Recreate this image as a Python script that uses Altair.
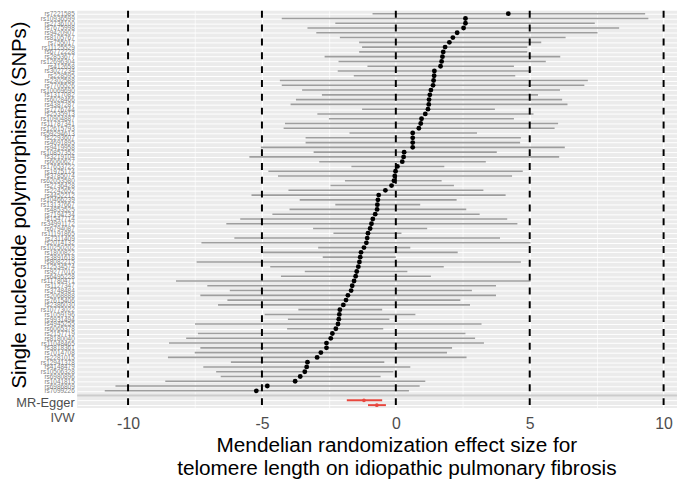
import altair as alt
import pandas as pd

# ---------------- data ----------------
snps = [
    "rs7221585", "rs10936599", "rs2736100", "rs7675998", "rs9420907", "rs8105767",
    "rs755017", "rs11125529", "rs6772228", "rs2853677", "rs12696304", "rs412658",
    "rs3027234", "rs228595", "rs2302588", "rs7705526", "rs10069690", "rs1317082",
    "rs6028466", "rs4387287", "rs7776744", "rs2535913", "rs10904887", "rs11787341",
    "rs12615793", "rs59294613", "rs2293607", "rs4691895", "rs9419958", "rs10857352",
    "rs3219104", "rs6060627", "rs17653722", "rs1975174", "rs3785074", "rs62053580",
    "rs2736428", "rs2242652", "rs4452212", "rs10466239", "rs13137667", "rs4853525",
    "rs7194734", "rs1547714", "rs34991172", "rs6794087", "rs11191865", "rs7311409",
    "rs2014132", "rs10250202", "rs1800822", "rs3891618", "rs8082215", "rs12534574",
    "rs9277016", "rs6495228", "rs11780471", "rs1127347", "rs3748484", "rs2068888",
    "rs7615406", "rs2386030", "rs10773022", "rs1059196", "rs9931494", "rs4945255",
    "rs6065378", "rs2157719", "rs8180040", "rs11048465", "rs3818361", "rs7014708",
    "rs2281015", "rs12941378", "rs4148479", "rs10506328", "rs6980896", "rs1041815",
    "rs6986809", "rs7099226",
]
beta = [4.2, 2.6, 2.6, 2.53, 2.29, 2.13, 2.0, 1.84, 1.77, 1.74, 1.71, 1.67, 1.44,
        1.43, 1.41, 1.39, 1.31, 1.27, 1.24, 1.23, 1.2, 1.1, 0.96, 0.93, 0.86, 0.63,
        0.63, 0.63, 0.63, 0.31, 0.29, 0.24, 0.06, -0.01, -0.04, -0.07, -0.16, -0.39,
        -0.64, -0.67, -0.69, -0.7, -0.77, -0.86, -0.91, -0.96, -1.04, -1.07, -1.1,
        -1.19, -1.3, -1.33, -1.36, -1.4, -1.46, -1.5, -1.56, -1.63, -1.67, -1.79,
        -1.86, -1.96, -2.09, -2.11, -2.13, -2.16, -2.24, -2.37, -2.43, -2.59, -2.59,
        -2.8, -2.94, -3.3, -3.33, -3.4, -3.57, -3.76, -4.8, -5.21]
lo = [-0.87, -4.26, -2.26, -3.3, -2.97, -2.09, -1.37, -1.26, -1.37, -2.66, -2.14,
      -1.06, -2.17, -1.57, -4.33, -4.26, -3.5, -2.76, -3.73, -3.93, -1.26, -2.93,
      -2.5, -4.14, -4.19, -1.73, -3.37, -3.37, -5.04, -3.07, -5.47, -2.86, -1.66,
      -4.76, -4.4, -1.9, -2.44, -4.01, -5.39, -3.59, -2.26, -3.97, -4.61, -5.81,
      -6.33, -3.09, -2.33, -6.03, -7.26, -2.9, -4.99, -2.73, -7.44, -4.69, -3.4,
      -4.29, -8.21, -7.04, -6.2, -7.3, -6.29, -6.64, -3.64, -4.9, -4.03, -7.5,
      -4.06, -7.39, -7.83, -8.47, -7.3, -7.51, -8.51, -6.16, -7.19, -6.71, -6.54,
      -8.61, -10.47, -10.87]
hi = [9.31, 9.43, 7.43, 8.34, 7.53, 6.34, 5.43, 4.91, 4.91, 6.14, 5.6, 4.41, 5.06,
      4.46, 7.17, 7.04, 6.13, 5.31, 6.21, 6.41, 3.7, 5.14, 4.41, 6.06, 5.93, 3.03,
      4.67, 4.64, 6.31, 3.77, 6.1, 3.36, 1.81, 4.74, 4.34, 1.71, 2.17, 3.27, 4.1,
      2.27, 0.91, 2.63, 3.13, 4.16, 4.54, 1.17, 0.21, 3.89, 5.03, 0.54, 2.31, 0.0,
      4.67, 1.79, 0.43, 1.31, 5.03, 3.74, 2.84, 3.74, 2.41, 2.77, -0.51, 0.73,
      -0.24, 3.2, -0.47, 2.6, 2.96, 3.29, 2.1, 1.91, 2.64, -0.43, 0.54, -0.09,
      -0.57, 1.1, 0.89, 0.49]

methods = ["MR-Egger", "IVW"]
m_beta = [-1.19, -0.71]
m_lo = [-1.83, -1.04]
m_hi = [-0.51, -0.37]

ref_lines = [-10, -5, 0, 5, 10]
grid_vals = [-10, -7.5, -5, -2.5, 0, 2.5, 5, 7.5, 10]

SEP = "sep"
order = snps + [SEP] + methods

snp_df = pd.DataFrame({"label": snps, "b": beta, "lo": lo, "hi": hi})
m_df = pd.DataFrame({"label": methods, "b": m_beta, "lo": m_lo, "hi": m_hi})
sep_df = pd.DataFrame({"label": [SEP]})
ref_df = pd.DataFrame({"xv": ref_lines})

W, H = 607, 402

xscale = alt.Scale(domain=[-11.9, 10.5], nice=False, zero=False)
xaxis = alt.Axis(
    title=["Mendelian randomization effect size for",
           "telomere length on idiopathic pulmonary fibrosis"],
    values=grid_vals,
    labelExpr="datum.value % 5 == 0 ? ('' + datum.value) : ''",
    ticks=False, domain=False, grid=True, gridColor="white",
    gridWidth={"condition": {"test": "datum.value % 5 == 0", "value": 1.2}, "value": 0.7},
    labelFontSize=16, labelColor="#4d4d4d", labelPadding=8,
    titleFontSize=21, titleFontWeight="normal", titleColor="black",
    titleX=323, titleY=27, titleBaseline="top", titleAlign="center",
    titleLineHeight=23, titleAngle=0,
)

is_m = "datum.value == 'MR-Egger' || datum.value == 'IVW'"
yaxis = alt.Axis(
    title="Single nucleotide polymorphisms (SNPs)",
    labelExpr="datum.value == 'sep' ? '' : datum.label",
    labelFontSize={"condition": {"test": is_m, "value": 13}, "value": 6.5},
    labelColor={"condition": {"test": is_m, "value": "#4d4d4d"}, "value": "#808080"},
    labelOffset={"condition": [{"test": "datum.value == 'IVW'", "value": 13},
                               {"test": "datum.value == 'MR-Egger'", "value": 2}],
                 "value": 0},
    labelOverlap=False, labelPadding=3, labelLimit=0,
    ticks=False, domain=False, grid=True, gridColor="white", gridWidth=1,
    titleFontSize=20.5, titleFontWeight="normal", titleColor="black",
    titleX=-58, titleY=196, titleAngle=270, titleAlign="center", titleBaseline="middle",
)

yenc = alt.Y("label:N", sort=order,
             scale=alt.Scale(type="point", domain=order, padding=0.61),
             axis=yaxis)


def xenc(field):
    return alt.X(f"{field}:Q", scale=xscale, axis=xaxis)


sep = alt.Chart(sep_df).mark_rule(color="#cccccc", strokeWidth=2).encode(
    y=yenc, x=alt.value(0), x2=alt.value(W))

bars = alt.Chart(snp_df).mark_rule(color="#9e9e9e", strokeWidth=1.6).encode(
    y=yenc, x=xenc("lo"), x2="hi")

dashed = alt.Chart(ref_df).mark_rule(color="black", strokeWidth=2, strokeDash=[7, 7]).encode(
    x=xenc("xv"))

pts = alt.Chart(snp_df).mark_circle(color="black", size=24, opacity=1).encode(
    y=yenc, x=xenc("b"))

mbars = alt.Chart(m_df).mark_rule(color="#e8483f", strokeWidth=2).encode(
    y=yenc, x=xenc("lo"), x2="hi")

mpts = alt.Chart(m_df).mark_circle(color="#e8483f", size=14, opacity=1).encode(
    y=yenc, x=xenc("b"))

chart = alt.layer(sep, bars, dashed, pts, mbars, mpts).properties(
    width=W, height=H,
    autosize=alt.AutoSizeParams(type="none"),
    padding={"left": 70, "top": 0, "right": 0, "bottom": 70},
).configure(font="Liberation Sans").configure_view(fill="#EBEBEB", stroke=None)

chart.save("out.html", embed_options={"renderer": "svg", "actions": False})
